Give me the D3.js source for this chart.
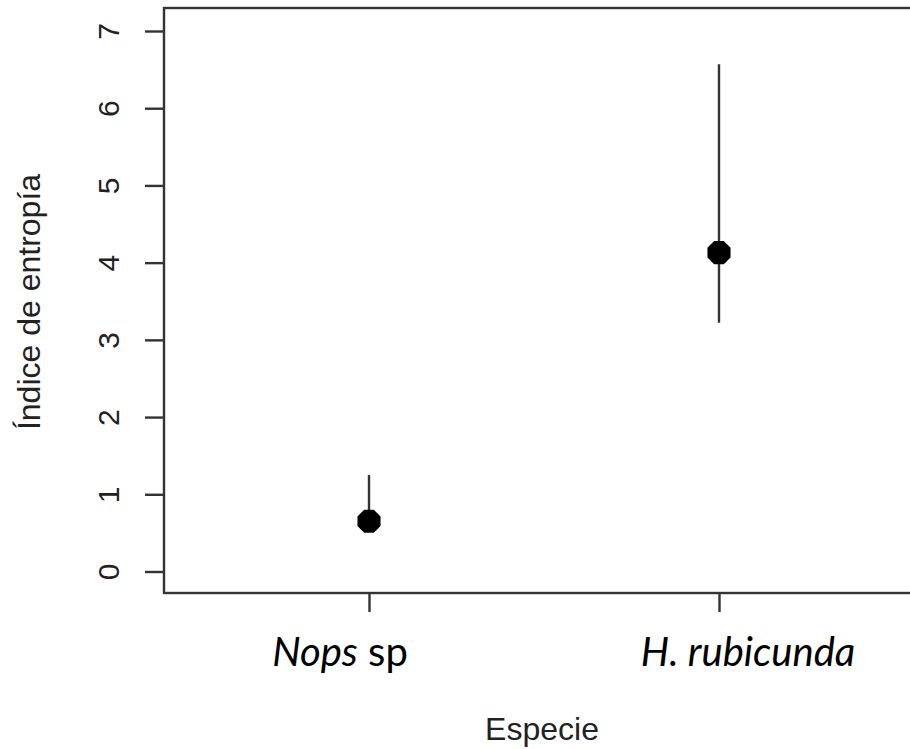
<!DOCTYPE html>
<html>
<head>
<meta charset="utf-8">
<script src="https://cdn.jsdelivr.net/npm/d3@7"></script>
<style>
  html, body { margin: 0; padding: 0; background: #fff; }
  svg { display: block; }
</style>
</head>
<body>
<script>
// Entropy index by species: mean with interval
const species = ["Nops", "H. rubicunda"];
const speciesSuffix = [" sp", ""];
const means = [0.65, 4.13];
const lower = [0.55, 3.22];
const upper = [1.25, 6.57];
const yTicks = [0, 1, 2, 3, 4, 5, 6, 7];

const W = 910, H = 749;
const svg = d3.select("body").append("svg").attr("width", W).attr("height", H);

const frame = { left: 164, top: 8, bottom: 593, right: 924 };
const x = d3.scaleLinear().domain([1, 2]).range([369, 719]);
const y = d3.scaleLinear().domain([0, 7]).range([571.5, 31]);
const axisColor = "#333";
const lw = 2.4;

// plot box (right edge runs past the page)
svg.append("rect")
  .attr("x", frame.left).attr("y", frame.top)
  .attr("width", frame.right - frame.left).attr("height", frame.bottom - frame.top)
  .attr("fill", "none").attr("stroke", axisColor).attr("stroke-width", lw);

// y axis
const yAxis = d3.axisLeft(y).tickValues(yTicks).tickSize(19).tickFormat(d3.format("d"));
const gy = svg.append("g").attr("transform", `translate(${frame.left},0)`).call(yAxis);
gy.select(".domain").remove();
gy.selectAll(".tick line").attr("stroke", axisColor).attr("stroke-width", lw);
gy.selectAll(".tick text")
  .attr("fill", "#222")
  .style("font-family", "'Liberation Sans', Arial, sans-serif")
  .style("font-size", "30px")
  .attr("text-anchor", "middle")
  .attr("x", null)
  .attr("transform", "translate(-56,0) rotate(-90)")
  .attr("dy", "0.36em");

// x axis ticks
const xAxis = d3.axisBottom(x).tickValues([1, 2]).tickSize(19).tickFormat("");
const gx = svg.append("g").attr("transform", `translate(0,${frame.bottom})`).call(xAxis);
gx.select(".domain").remove();
gx.selectAll(".tick line").attr("stroke", axisColor).attr("stroke-width", lw);

// category labels
const labelOffset = [-29, 29];
species.forEach((s, i) => {
  const t = svg.append("text")
    .attr("x", x(i + 1) + labelOffset[i]).attr("y", 666)
    .attr("text-anchor", "middle")
    .style("font-family", "Lato, 'Open Sans', sans-serif")
    .style("font-size", "40px")
    .attr("fill", "#000");
  t.append("tspan").style("font-style", "italic").text(s);
  if (speciesSuffix[i]) t.append("tspan").text(speciesSuffix[i]);
});

// axis titles
svg.append("text")
  .attr("x", 542).attr("y", 740)
  .attr("text-anchor", "middle")
  .style("font-family", "'Liberation Sans', Arial, sans-serif")
  .style("font-size", "32px").attr("fill", "#222")
  .text("Especie");

svg.append("text")
  .attr("transform", "translate(40,302) rotate(-90)")
  .attr("text-anchor", "middle")
  .style("font-family", "'Liberation Sans', Arial, sans-serif")
  .style("font-size", "32px").attr("fill", "#222")
  .text("Índice de entropía");

// interval lines and means
const idx = d3.range(species.length);
svg.append("g").selectAll("line").data(idx).join("line")
  .attr("x1", i => x(i + 1)).attr("x2", i => x(i + 1))
  .attr("y1", i => y(lower[i])).attr("y2", i => y(upper[i]))
  .attr("stroke", axisColor).attr("stroke-width", lw);

// octagonal point marker
const r = 12.5;
const octagon = d3.range(8).map(k => {
  const a = Math.PI / 8 + k * Math.PI / 4;
  return [r * Math.cos(a), r * Math.sin(a)];
});
svg.append("g").selectAll("path").data(idx).join("path")
  .attr("transform", i => `translate(${x(i + 1)},${y(means[i])})`)
  .attr("d", d3.line()(octagon) + "Z")
  .attr("fill", "#000");
</script>
</body>
</html>
